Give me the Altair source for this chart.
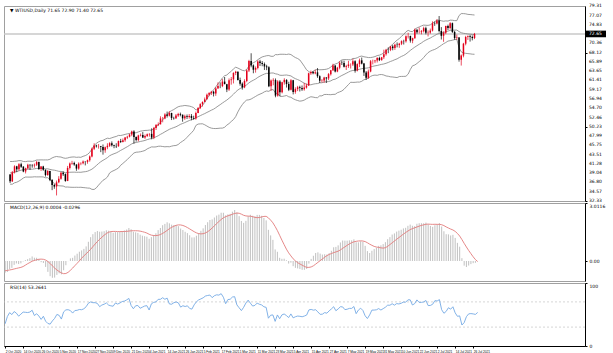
import altair as alt
import pandas as pd

# ---- data (daily WTI CFD, 2 Oct 2020 .. 28 Jul 2021) ----
warmup_closes = [42.89, 42.89, 42.93, 42.82, 42.34, 42.62, 43.35, 43.39, 43.04, 42.97,
                 42.61, 42.76, 41.51, 41.37, 39.77, 39.30, 36.76, 38.05, 37.30, 37.33,
                 37.26, 38.28, 40.16, 40.97, 41.11, 39.31, 39.80, 39.93, 40.31, 40.25,
                 40.60, 39.29, 40.22, 38.72]

opens = [38.72, 37.05, 39.22, 40.67, 39.95, 41.19, 40.60, 39.43, 40.20, 41.04, 40.96, 40.88, 41.06, 41.70, 40.03, 40.64, 39.85, 38.56, 39.57, 37.39, 36.17,
         35.79, 36.81, 37.66, 39.15, 38.79, 37.14, 40.29, 41.36, 41.45, 41.12, 40.13, 41.34, 41.43, 41.82, 41.74, 42.15, 43.06, 44.91, 45.71, 45.50, 45.53,
         45.34, 44.55, 45.28, 45.64, 46.26, 45.76, 45.60, 45.52, 46.78, 46.57, 46.99, 47.62, 47.82, 48.36, 49.10, 47.74, 47.02, 48.12, 48.23, 47.62, 48.00, 48.40,
         48.52, 47.62, 49.93, 50.63, 50.83, 52.24, 52.25, 53.21, 52.91, 53.57, 52.36, 52.30, 52.98, 53.31, 53.13, 52.27, 52.77, 52.61, 52.85, 52.34,
         52.20, 53.55, 54.76, 55.69, 56.23, 56.85, 57.97, 58.36, 58.68, 58.24, 59.47, 60.10, 60.05, 61.14, 60.52, 59.24, 61.49, 61.67, 63.22, 63.53,
         61.50, 60.64, 59.75, 61.28, 63.83, 66.09, 65.05, 64.01, 64.44, 66.02, 65.61, 65.39, 64.80, 64.60, 60.00, 61.42, 61.55, 57.76, 61.18, 58.56, 60.97, 61.56, 60.55,
         59.16, 61.45, 58.65, 59.33, 59.77, 59.60, 59.32, 59.70, 60.18, 63.15, 63.46, 63.13, 63.38, 62.44, 61.35, 61.43, 62.14, 61.91, 62.94, 63.86, 65.01,
         63.58, 64.49, 65.69, 65.63, 64.71, 64.90, 65.28, 65.28, 66.08, 63.82, 65.37, 66.27, 65.49, 63.36, 62.05, 63.58, 66.05, 66.07, 66.21, 66.85, 66.32,
         67.00, 67.72, 68.83, 68.81, 69.62, 69.23, 70.05, 69.96, 70.29, 70.91, 70.88, 72.12, 72.15, 71.04, 71.64, 73.66, 73.06, 73.08, 73.30, 74.05, 72.91, 72.98,
         73.47, 75.23, 75.16, 75.90, 73.37, 72.20, 72.94, 74.56, 74.10, 75.25, 73.13, 71.65, 71.81, 66.42, 67.42, 70.30, 71.91, 72.07, 71.91, 71.65]

highs = [38.80, 39.55, 40.92, 40.80, 41.44, 41.55, 40.70, 40.35, 41.30, 41.15, 41.20, 41.35, 42.00, 41.82, 40.75, 40.80, 39.90, 39.75, 39.60, 37.60, 36.40,
         37.25, 38.30, 39.30, 39.45, 38.95, 40.77, 41.60, 42.00, 41.80, 41.15, 41.65, 41.65, 42.10, 41.85, 42.30, 43.30, 45.20, 46.25, 45.90, 46.05, 45.60,
         45.95, 45.45, 46.25, 46.50, 46.70, 45.90, 46.25, 46.90, 47.30, 47.40, 47.75, 48.05, 48.55, 49.30, 49.40, 47.90, 48.30, 48.60, 48.95, 48.35, 48.60, 48.65,
         49.85, 50.20, 50.90, 51.28, 52.75, 52.60, 53.50, 53.90, 54.00, 53.60, 52.65, 53.30, 53.60, 53.65, 53.20, 53.15, 53.20, 53.30, 53.30, 52.90,
         53.90, 55.00, 55.90, 56.35, 57.30, 58.25, 58.60, 58.90, 58.90, 59.80, 60.95, 60.95, 61.75, 62.25, 60.60, 61.90, 62.25, 63.40, 63.75, 63.60,
         62.10, 60.95, 61.70, 64.10, 66.40, 67.98, 65.30, 64.80, 66.30, 66.40, 66.10, 65.75, 65.20, 64.85, 61.65, 61.95, 61.90, 61.50, 61.50, 61.10, 61.95, 61.70, 61.10,
         61.75, 61.55, 59.75, 60.10, 60.15, 60.20, 60.80, 60.65, 63.30, 63.80, 63.70, 64.00, 64.40, 62.65, 61.75, 62.30, 62.20, 63.20, 63.95, 65.45, 65.10,
         64.70, 66.05, 66.20, 66.20, 65.20, 66.15, 65.55, 66.65, 66.30, 65.55, 66.70, 66.95, 65.65, 63.70, 64.05, 66.35, 66.45, 66.40, 67.05, 67.15, 67.10,
         68.85, 69.05, 69.40, 69.75, 70.00, 70.30, 70.60, 70.50, 71.10, 71.25, 72.30, 72.95, 72.25, 71.75, 73.95, 73.80, 74.20, 73.60, 74.40, 74.40, 73.50, 73.95,
         75.70, 75.65, 76.20, 76.98, 74.30, 73.30, 74.65, 74.90, 75.50, 75.40, 73.40, 72.50, 71.90, 67.70, 70.50, 72.20, 72.30, 72.40, 72.30, 72.90]

lows = [36.63, 36.90, 38.95, 39.28, 39.60, 40.30, 39.25, 38.95, 39.95, 39.80, 40.35, 40.35, 40.75, 39.80, 39.55, 39.60, 38.20, 38.40, 37.10, 34.92, 35.25,
        33.64, 36.60, 37.45, 38.35, 36.95, 37.10, 39.90, 41.05, 40.80, 39.60, 39.85, 40.95, 41.15, 40.90, 41.30, 41.80, 42.85, 44.60, 45.20, 44.95, 44.10,
        43.50, 43.95, 44.80, 45.35, 45.45, 45.05, 45.10, 45.40, 46.30, 46.45, 46.60, 47.25, 47.65, 47.95, 46.15, 46.65, 46.70, 47.90, 47.50, 47.30, 47.75, 47.85,
        47.20, 47.25, 49.45, 50.40, 50.80, 51.30, 52.05, 52.45, 52.70, 51.85, 51.95, 52.10, 52.60, 52.75, 51.45, 51.90, 52.10, 52.20, 51.80, 51.95,
        51.95, 53.50, 54.50, 55.10, 56.15, 56.80, 57.60, 57.90, 57.55, 57.70, 59.45, 59.55, 59.80, 60.50, 58.60, 58.90, 60.40, 60.70, 62.70, 61.40,
        60.15, 59.20, 59.55, 61.00, 63.45, 64.60, 63.15, 63.30, 64.10, 64.90, 64.85, 63.95, 63.90, 59.80, 58.90, 60.25, 57.35, 57.50, 57.60, 58.30, 60.40, 59.70, 58.85,
        59.00, 58.05, 58.20, 58.85, 58.75, 58.90, 58.95, 59.45, 60.10, 62.75, 62.90, 62.90, 62.05, 60.80, 60.95, 60.85, 60.80, 61.50, 62.60, 63.70, 63.35,
        63.40, 64.10, 65.15, 64.55, 63.95, 64.45, 64.30, 64.90, 63.30, 63.60, 64.65, 65.30, 62.50, 61.55, 61.80, 63.40, 65.30, 65.60, 65.75, 66.10, 66.20,
        66.60, 67.40, 68.00, 68.50, 68.70, 68.80, 69.40, 69.30, 69.95, 70.10, 70.55, 71.55, 70.55, 70.40, 71.50, 72.70, 72.75, 72.55, 73.00, 72.55, 72.05, 72.70,
        73.25, 74.60, 74.95, 73.00, 71.30, 70.75, 72.60, 73.60, 73.70, 72.90, 71.25, 71.20, 65.95, 65.01, 67.00, 69.90, 71.20, 70.80, 71.10, 71.40]

closes = [37.05, 39.22, 40.67, 39.95, 41.19, 40.60, 39.43, 40.20, 41.04, 40.96, 40.88, 41.06, 41.70, 40.03, 40.64, 39.85, 38.56, 39.57, 37.39, 36.17, 35.79,
          36.81, 37.66, 39.15, 38.79, 37.14, 40.29, 41.36, 41.45, 41.12, 40.13, 41.34, 41.43, 41.82, 41.74, 42.15, 43.06, 44.91, 45.71, 45.50, 45.53, 45.34,
          44.55, 45.28, 45.64, 46.26, 45.76, 45.60, 45.52, 46.78, 46.57, 46.99, 47.62, 47.82, 48.36, 49.10, 47.74, 47.02, 48.12, 48.23, 47.62, 48.00, 48.40, 48.52,
          47.62, 49.93, 50.63, 50.83, 52.24, 52.25, 53.21, 52.91, 53.57, 52.36, 52.30, 52.98, 53.31, 53.13, 52.27, 52.77, 52.61, 52.85, 52.34, 52.20,
          53.55, 54.76, 55.69, 56.23, 56.85, 57.97, 58.36, 58.68, 58.24, 59.47, 60.10, 60.05, 61.14, 60.52, 59.24, 61.49, 61.67, 63.22, 63.53, 61.50,
          60.64, 59.75, 61.28, 63.83, 66.09, 65.05, 64.01, 64.44, 66.02, 65.61, 65.39, 64.80, 64.60, 60.00, 61.42, 61.55, 57.76, 61.18, 58.56, 60.97, 61.56, 60.55, 59.16,
          61.45, 58.65, 59.33, 59.77, 59.60, 59.32, 59.70, 60.18, 63.15, 63.46, 63.13, 63.38, 62.44, 61.35, 61.43, 62.14, 61.91, 62.94, 63.86, 65.01, 63.58,
          64.49, 65.69, 65.63, 64.71, 64.90, 65.28, 65.28, 66.08, 63.82, 65.37, 66.27, 65.49, 63.36, 62.05, 63.58, 66.05, 66.07, 66.21, 66.85, 66.32, 67.00,
          67.72, 68.83, 68.81, 69.62, 69.23, 70.05, 69.96, 70.29, 70.91, 70.88, 72.12, 72.15, 71.04, 71.64, 73.66, 73.06, 73.08, 73.30, 74.05, 72.91, 72.98, 73.47,
          75.23, 75.16, 75.90, 73.37, 72.20, 72.94, 74.56, 74.10, 75.25, 73.13, 71.65, 71.81, 66.42, 67.42, 70.30, 71.91, 72.07, 71.91, 71.65, 72.65]

label_bars = [0, 8, 16, 24, 32, 40, 48, 56, 64, 72, 80, 88, 96, 104, 112, 120, 128,
              136, 144, 152, 160, 168, 176, 184, 192, 200, 208]
date_labels = ["2 Oct 2020", "14 Oct 2020", "26 Oct 2020", "5 Nov 2020", "17 Nov 2020",
               "27 Nov 2020", "9 Dec 2020", "21 Dec 2020", "4 Jan 2021", "14 Jan 2021",
               "26 Jan 2021", "5 Feb 2021", "17 Feb 2021", "1 Mar 2021", "11 Mar 2021",
               "23 Mar 2021", "5 Apr 2021", "15 Apr 2021", "27 Apr 2021", "7 May 2021",
               "19 May 2021", "31 May 2021", "10 Jun 2021", "22 Jun 2021", "2 Jul 2021",
               "14 Jul 2021", "26 Jul 2021"]
price_ticks = [32.33, 34.57, 36.80, 39.04, 41.28, 43.51, 45.75, 47.99, 50.23, 52.46, 54.70,
               56.94, 59.17, 61.41, 63.65, 65.89, 68.12, 70.36, 74.83, 77.07, 79.31]
rsi_levels = [70, 30]
rsi_ticks = [100, 70, 30, 0]

# ---- indicators as the terminal draws them: BB(20,2), MACD(12,26,9), RSI(14) ----
n = len(closes)
s = pd.Series(warmup_closes + closes)
mid = s.rolling(20).mean()
sd = s.rolling(20).std(ddof=0)
ema12 = s.ewm(span=12, adjust=False).mean()
ema26 = s.ewm(span=26, adjust=False).mean()
macd = ema12 - ema26
sig = macd.rolling(9).mean()
d = s.diff().fillna(0)
ag = d.clip(lower=0).ewm(alpha=1 / 14, adjust=False).mean()
al = (-d.clip(upper=0)).ewm(alpha=1 / 14, adjust=False).mean()
rsi = 100 - 100 / (1 + ag / al)

k = len(warmup_closes)
df = pd.DataFrame({
    "j": list(range(n)),
    "o": opens, "h": highs, "l": lows, "c": closes,
    "bu": (mid + 2 * sd).iloc[k:].values,
    "bm": mid.iloc[k:].values,
    "bl": (mid - 2 * sd).iloc[k:].values,
    "macd": macd.iloc[k:].values,
    "sig": sig.iloc[k:].values,
    "rsi": rsi.iloc[k:].values,
})
df["col"] = ["#e3001b" if c >= o else "#000000" for o, c in zip(opens, closes)]

FONT = "DejaVu Sans"
W = 581
xdom = [-0.5, 257.7]
X = alt.X("j:Q", scale=alt.Scale(domain=xdom, nice=False, zero=False), axis=None)
last = closes[-1]


def yax(**kw):
    return alt.Axis(orient="right", title=None, grid=False, labelFontSize=4.5, labelFont=FONT,
                    tickSize=2, labelPadding=2, labelOverlap=False, labelBound=False, labelFlush=False,
                    domainColor="#000", tickColor="#000", labelColor="#000", **kw)


base = alt.Chart(df)

# ---------- price panel ----------
yp = alt.Scale(domain=[32.3, 79.4], nice=False, zero=False)
bid = alt.Chart(pd.DataFrame({"p": [last]})).mark_rule(color="#c8c8c8", strokeWidth=1.5).encode(
    y=alt.Y("p:Q", scale=yp, axis=yax(values=price_ticks, labels=False)))
bands = [base.mark_line(color="#808080", strokeWidth=0.8).encode(x=X, y=alt.Y(f, scale=yp))
         for f in ["bu:Q", "bm:Q", "bl:Q"]]
wicks = base.mark_rule(strokeWidth=0.7).encode(
    x=X, y=alt.Y("l:Q", scale=yp), y2="h:Q", color=alt.Color("col:N", scale=None))
bodies = base.mark_bar(size=1.5).encode(
    x=X, y=alt.Y("o:Q", scale=yp), y2="c:Q", color=alt.Color("col:N", scale=None))
plabels = alt.Chart(pd.DataFrame({"p": price_ticks, "t": [f"{v:.2f}" for v in price_ticks]})).mark_text(
    align="left", baseline="middle", fontSize=4.5, font=FONT, color="#000", clip=False).encode(
    x=alt.value(W + 4), y=alt.Y("p:Q", scale=yp), text="t:N")
ptitle = alt.Chart(pd.DataFrame({"t": [f"\u25bc WTIUSD,Daily  {opens[-1]:.2f} {highs[-1]:.2f} {lows[-1]:.2f} {last:.2f}"]})).mark_text(
    align="left", baseline="top", fontSize=4.5, font=FONT, color="#000").encode(
    x=alt.value(6), y=alt.value(2), text="t:N")
box = alt.Chart(pd.DataFrame({"a": [last + 0.8], "b": [last - 0.8]})).mark_rect(color="#000", clip=False).encode(
    x=alt.value(W + 1), x2=alt.value(W + 21), y=alt.Y("a:Q", scale=yp), y2="b:Q")
boxt = alt.Chart(pd.DataFrame({"p": [last], "t": [f"{last:.2f}"]})).mark_text(
    align="left", baseline="middle", fontSize=4.5, font=FONT, color="#fff", clip=False).encode(
    x=alt.value(W + 4), y=alt.Y("p:Q", scale=yp), text="t:N")

price = alt.layer(bid, *bands, wicks, bodies, plabels, ptitle, box, boxt).properties(width=W, height=195)

# ---------- MACD panel ----------
hmax = float(df["macd"].max())
top = hmax * 58 / 51
bot = -top * 20 / 58
ym = alt.Scale(domain=[bot, top], nice=False, zero=False)
hist = base.mark_rule(color="#b9b9b9", strokeWidth=0.9).encode(
    x=X, y=alt.Y("macd:Q", scale=ym, axis=yax(
        values=[top, 0], labelExpr="datum.value == 0 ? '0.00' : format(datum.value, '.4f')",
        labelBaseline={"condition": {"test": "datum.value == 0", "value": "middle"}, "value": "top"})),
    y2=alt.datum(0))
sigl = base.mark_line(color="#e27b7b", strokeWidth=0.9).encode(x=X, y=alt.Y("sig:Q", scale=ym))
mtitle = alt.Chart(pd.DataFrame({"t": [f"MACD(12,26,9) {df['macd'].iloc[-1]:.4f} {df['sig'].iloc[-1]:.4f}"]})).mark_text(
    align="left", baseline="top", fontSize=4.5, font=FONT, color="#000").encode(
    x=alt.value(6), y=alt.value(2), text="t:N")
macd_panel = alt.layer(hist, sigl, mtitle).properties(width=W, height=78)

# ---------- RSI panel ----------
yr = alt.Scale(domain=[0, 100], nice=False, zero=False)
lab_expr = ("[" + ",".join(f"'{t}'" for t in date_labels) + "][indexof(["
            + ",".join(str(b) for b in label_bars) + "], datum.value)]")
Xr = alt.X("j:Q", scale=alt.Scale(domain=xdom, nice=False, zero=False),
           axis=alt.Axis(values=label_bars, labelExpr=lab_expr, title=None, grid=False,
                         labelFontSize=3.2, labelFont="Liberation Sans", labelAlign="left", tickSize=2,
                         labelPadding=1, labelOverlap=False, labelBound=False, labelFlush=False,
                         domainColor="#000", tickColor="#000", labelColor="#000"))
levels = alt.Chart(pd.DataFrame({"v": rsi_levels})).mark_rule(
    color="#c4c4c4", strokeWidth=0.7, strokeDash=[2, 2]).encode(
    y=alt.Y("v:Q", scale=yr, axis=yax(values=rsi_ticks, format="d",
            labelBaseline={"condition": {"test": "datum.value == 100", "value": "top"}, "value": "middle"})))
rsil = base.mark_line(color="#74a9e4", strokeWidth=0.9).encode(x=Xr, y=alt.Y("rsi:Q", scale=yr))
rtitle = alt.Chart(pd.DataFrame({"t": [f"RSI(14) {df['rsi'].iloc[-1]:.4f}"]})).mark_text(
    align="left", baseline="top", fontSize=4.5, font=FONT, color="#000").encode(
    x=alt.value(6), y=alt.value(2), text="t:N")
rsi_panel = alt.layer(levels, rsil, rtitle).properties(width=W, height=63)

chart = alt.vconcat(price, macd_panel, rsi_panel, spacing=2, bounds="flush").properties(
    padding={"left": 2, "top": 2, "right": 0, "bottom": 0},
    background="#ffffff",
).configure_view(stroke="#a0a0a0", strokeWidth=1).configure_axis(
    labelOverlap=False, labelBound=False, labelFlush=False)

chart.save("out.html", embed_options={"renderer": "svg", "actions": False})
